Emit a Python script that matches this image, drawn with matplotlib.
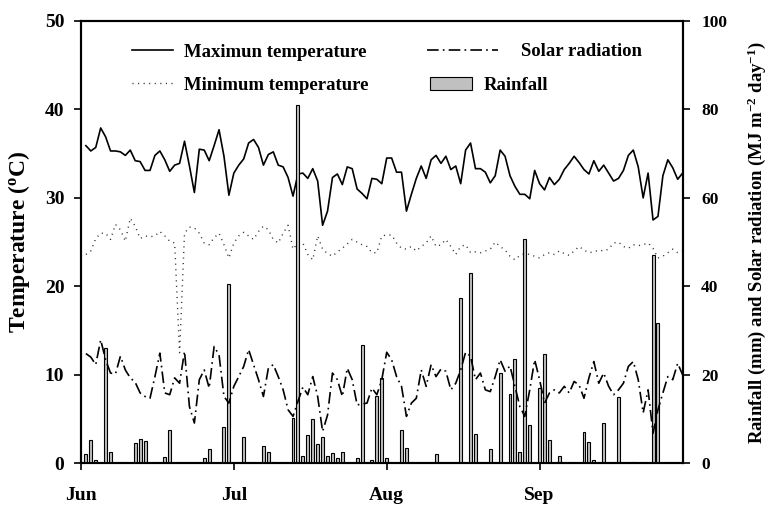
import matplotlib
matplotlib.use("Agg")
import matplotlib.pyplot as plt
import numpy as np

# ── data (daily, 1 Jun – 30 Sep) ─────────────────────────────────────────────
max_temp = [35.9, 35.3, 35.7, 37.9, 36.9, 35.3, 35.3, 35.2, 34.8, 35.4,
            34.2, 34.1, 33.1, 33.1, 34.8, 35.3, 34.3, 33.0, 33.7, 33.9,
            36.4, 33.6, 30.6, 35.5, 35.4, 34.2, 35.9, 37.7, 34.7, 30.3,
            32.8, 33.7, 34.4, 36.2, 36.6, 35.7, 33.7, 34.9, 35.2, 33.7,
            33.5, 32.3, 30.2, 32.7, 32.8, 32.2, 33.3, 31.9, 26.9, 28.5,
            32.3, 32.7, 31.5, 33.5, 33.3, 31.0, 30.5, 29.9, 32.2, 32.1,
            31.6, 34.5, 34.5, 32.9, 32.9, 28.5, 30.4, 32.2, 33.6, 32.2,
            34.3, 34.8, 33.9, 34.7, 33.2, 33.6, 31.6, 35.4, 36.2, 33.3,
            33.3, 32.9, 31.7, 32.5, 35.4, 34.7, 32.5, 31.3, 30.4, 30.4,
            29.9, 33.1, 31.6, 30.9, 32.3, 31.5, 32.1, 33.2, 33.9, 34.7,
            34.0, 33.2, 32.7, 34.2, 33.0, 33.7, 32.8, 31.9, 32.2, 33.1,
            34.8, 35.4, 33.5, 30.0, 32.8, 27.5, 27.9, 32.5, 34.3, 33.4,
            32.1, 32.8]

min_temp = [23.6, 24.0, 25.4, 26.0, 26.0, 25.3, 27.0, 26.4, 25.1, 27.7,
            26.8, 25.4, 25.7, 25.6, 25.7, 26.2, 25.7, 25.1, 24.9, 12.5,
            26.0, 26.7, 26.6, 26.0, 24.9, 24.7, 25.5, 26.0, 24.7, 23.2,
            24.9, 25.7, 26.1, 25.7, 25.3, 26.2, 26.8, 26.4, 25.3, 24.9,
            26.0, 26.9, 24.2, 24.9, 24.9, 23.6, 23.0, 25.7, 24.2, 23.7,
            23.4, 23.9, 24.3, 24.8, 25.3, 25.0, 24.7, 24.5, 23.8, 23.8,
            25.7, 25.8, 25.8, 24.9, 24.3, 24.2, 24.5, 24.0, 24.5, 24.9,
            25.7, 24.5, 24.7, 25.3, 24.5, 23.6, 24.5, 24.7, 23.8, 23.9,
            23.8, 24.0, 24.2, 25.0, 24.5, 24.1, 23.4, 23.0, 23.5, 23.7,
            23.6, 23.4, 23.2, 23.6, 23.8, 23.6, 24.0, 23.7, 23.5, 24.0,
            24.5, 24.1, 23.8, 23.9, 24.1, 24.0, 24.2, 24.9, 25.0, 24.5,
            24.3, 24.7, 24.6, 24.7, 24.9, 24.3, 23.2, 23.4, 23.8, 24.2,
            23.8, 24.0]

solar = [24.8, 24.0, 22.3, 27.9, 23.4, 20.4, 20.2, 24.2, 21.1, 19.3,
         18.3, 15.9, 15.1, 14.7, 19.6, 24.9, 15.9, 15.5, 19.3, 18.1,
         25.3, 12.8, 9.1, 18.9, 21.1, 17.0, 26.4, 24.5, 15.1, 13.6,
         17.4, 19.6, 21.9, 25.7, 22.3, 18.9, 15.1, 21.5, 22.3, 19.6,
         16.6, 12.1, 10.6, 14.0, 17.2, 15.5, 19.6, 15.1, 7.2, 10.9,
         20.4, 18.9, 15.1, 21.5, 18.9, 13.2, 13.4, 13.6, 17.0, 15.5,
         18.9, 25.1, 23.4, 19.6, 17.4, 10.6, 13.6, 14.7, 21.1, 17.4,
         22.3, 19.6, 21.3, 20.8, 16.6, 18.1, 21.1, 25.1, 24.2, 18.9,
         20.4, 16.6, 16.2, 19.6, 23.4, 20.8, 22.0, 17.4, 12.8, 10.6,
         16.6, 23.4, 18.9, 13.6, 15.9, 16.6, 15.9, 17.4, 15.9, 18.5,
         17.7, 14.7, 19.3, 23.0, 18.1, 20.4, 17.4, 15.5, 16.6, 18.1,
         21.9, 23.0, 18.9, 11.4, 16.6, 6.8, 12.1, 15.9, 19.6, 18.9,
         22.6, 20.0]

# rainy days only (day 1 = 1 Jun) and amounts in mm
rain_day = [1, 2, 3, 5, 6, 11, 12, 13, 17, 18, 25, 26, 29, 30, 33, 37, 38, 39,
            43, 44, 45, 46, 47, 48, 49, 50, 51, 52, 53, 56, 57, 59, 60, 61, 62,
            65, 66, 67, 72, 77, 79, 80, 83, 85, 87, 88, 89, 90, 91, 93, 94, 95,
            97, 102, 103, 104, 106, 109, 112, 116, 117, 122]
rain_mm = [2.1, 5.3, 0.8, 26.0, 2.5, 4.5, 5.5, 5.1, 1.4, 7.5, 1.1, 3.2, 8.2,
           40.6, 6.0, 3.9, 2.6, 0.4, 10.2, 81.0, 1.7, 6.4, 10.0, 4.4, 6.0, 1.6,
           2.3, 1.1, 2.6, 1.3, 26.8, 0.8, 15.2, 19.3, 1.3, 7.5, 3.4, 0.3, 2.0,
           37.4, 43.1, 6.6, 3.2, 20.5, 15.6, 23.6, 2.5, 50.8, 8.6, 17.0, 24.7,
           5.3, 1.7, 7.0, 4.8, 0.7, 9.2, 14.9, 0.4, 47.0, 31.8, 0.3]

month_ticks = [0, 31, 62, 93]
month_labels = ["Jun", "Jul", "Aug", "Sep"]

days = np.arange(1, len(max_temp) + 1)

plt.rcParams["font.family"] = "Liberation Serif"
plt.rcParams["font.weight"] = "bold"
plt.rcParams["mathtext.fontset"] = "custom"
plt.rcParams["mathtext.rm"] = "Liberation Serif:bold"
plt.rcParams["mathtext.it"] = "Liberation Serif:bold"
plt.rcParams["mathtext.bf"] = "Liberation Serif:bold"

fig = plt.figure(figsize=(7.71, 5.05), dpi=100)
ax = fig.add_axes([0.105, 0.0826, 0.781, 0.876])
ax2 = ax.twinx()

l_max, = ax.plot(days, max_temp, color="black", lw=1.2)
l_min, = ax.plot(days, min_temp, color="#333333", lw=1.0, linestyle=(0, (0.8, 3.2)))
l_sol, = ax2.plot(days, solar, color="black", lw=1.2, linestyle=(0, (7, 2.5, 1, 2.5)))
bars = ax2.bar(rain_day, rain_mm, width=0.6, color="#c0c0c0",
               edgecolor="black", linewidth=0.8)

ax.set_xlim(0, 122.1)
ax.set_ylim(0, 50)
ax2.set_ylim(0, 100)
ax.set_yticks(range(0, 51, 10))
ax2.set_yticks(range(0, 101, 20))
ax.set_xticks(month_ticks)
ax.set_xticklabels(month_labels)

for a in (ax, ax2):
    for s in a.spines.values():
        s.set_linewidth(1.5)
ax.tick_params(axis="both", direction="out", length=5, width=1.2, labelsize=14)
ax.tick_params(axis="x", pad=12)
ax.tick_params(axis="y", pad=7)
ax2.tick_params(axis="y", direction="out", length=5, width=1.2, labelsize=12.5, pad=8)

ax.set_ylabel("Temperature ($^{o}$C)", fontsize=17, fontweight="bold", labelpad=9)
ax2.set_ylabel("Rainfall (mm) and Solar radiation (MJ m$^{-2}$ day$^{-1}$)",
               fontsize=13.5, fontweight="bold", labelpad=13)

# legend: three small legends so the handle lengths can differ
leg_kw = dict(frameon=False, fontsize=13.5, borderpad=0, borderaxespad=0,
              loc="center left")
leg_a = ax2.legend([l_max, l_min], ["Maximun temperature", "Minimum temperature"],
                   bbox_to_anchor=(0.085, 0.892), handlelength=2.2,
                   handletextpad=0.55, labelspacing=0.85, **leg_kw)
ax2.add_artist(leg_a)
leg_b = ax2.legend([l_sol], ["Solar radiation"],
                   bbox_to_anchor=(0.575, 0.930), handlelength=3.8,
                   handletextpad=1.2, **leg_kw)
ax2.add_artist(leg_b)
ax2.legend([bars], ["Rainfall"], bbox_to_anchor=(0.580, 0.853),
           handlelength=2.24, handleheight=0.7, handletextpad=0.6, **leg_kw)

fig.savefig("out.png", dpi=100)
